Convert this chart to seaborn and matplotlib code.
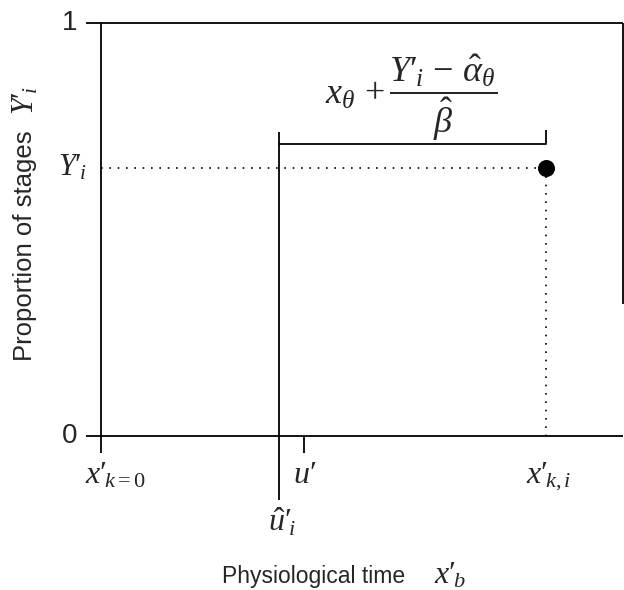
import matplotlib
matplotlib.use("Agg")
import matplotlib.pyplot as plt
import seaborn as sns
import pandas as pd

# Key positions on the physiological-time axis (fraction of axis span)
x_k0 = 0.0          # x'_{k=0}
u_hat = 0.341       # estimated u'_i
u_prime = 0.389     # u'
x_ki = 0.852        # x'_{k,i}

# Proportion values
y_low = 0.0
y_high = 1.0
Y_i = 0.649         # observed proportion Y'_i

# Bracket showing the estimated time span
bracket_y = 0.707
bracket_tick_top = 0.741
u_hat_top = 0.736
u_hat_bottom = -0.155

P = "\u2032"  # prime glyph drawn at full size
x_tick_labels = [rf"$x{P}_{{\!k=0}}$", rf"$u{P}$", rf"$x{P}_{{\!k,i}}$"]
y_tick_labels = ["0", rf"$Y{P}_{{\!i}}$", "1"]
u_hat_label = rf"$\hat{{u}}{P}_{{\!i}}$"
formula = (rf"$x_{{\theta}}\,+\dfrac{{Y{P}_{{\!i}}\,-\,\hat{{\alpha}}_{{\theta}}}}"
           rf"{{\hat{{\beta}}}}$")
x_label_text = "Physiological time"
x_label_sym = rf"$x{P}_{{\!b}}$"
y_label_text = "Proportion of stages"
y_label_sym = rf"$Y{P}_{{\!i}}$"

sns.set_theme(style="white")
plt.rcParams["font.family"] = ["Liberation Sans", "DejaVu Sans"]
plt.rcParams["mathtext.fontset"] = "custom"
plt.rcParams["mathtext.rm"] = "Liberation Serif"
plt.rcParams["mathtext.it"] = "Liberation Serif:italic"
plt.rcParams["mathtext.bf"] = "Liberation Serif:bold"
plt.rcParams["mathtext.fallback"] = "stix"

fig = plt.figure(figsize=(6.24, 5.9), dpi=100)
ax = fig.add_axes([101 / 624, 1 - 436 / 590, 522 / 624, 413 / 590])
ax.set_xlim(0, 1)
ax.set_ylim(0, 1)
for s in ax.spines.values():
    s.set_visible(False)
ax.set_xticks([])
ax.set_yticks([])

lw = 1.3
k = dict(color="black", lw=lw, clip_on=False, solid_capstyle="butt")
ext_left = -0.029
# frame lines (axes extended past the origin)
ax.plot([ext_left, 1.0], [y_low, y_low], **k)
ax.plot([ext_left, 1.0], [y_high, y_high], **k)
ax.plot([x_k0, x_k0], [-0.041, y_high], **k)
ax.plot([1.0, 1.0], [0.32, y_high], **k)
# u' tick
ax.plot([u_prime, u_prime], [y_low, -0.041], **k)
# u-hat line
ax.plot([u_hat, u_hat], [u_hat_bottom, u_hat_top], **k)
# bracket
ax.plot([u_hat, x_ki, x_ki], [bracket_y, bracket_y, bracket_tick_top], **k)

# dotted guides to the observation
dot = dict(color="black", lw=1.2, linestyle=(0, (1, 4)), clip_on=False)
ax.plot([x_k0, x_ki], [Y_i, Y_i], **dot)
ax.plot([x_ki, x_ki], [Y_i, y_low], **dot)

obs = pd.DataFrame({"x": [x_ki], "y": [Y_i]})
sns.scatterplot(data=obs, x="x", y="y", ax=ax, s=150, color="black",
                edgecolor="black", linewidth=0, clip_on=False, legend=False, zorder=5)
ax.set_xlabel("")
ax.set_ylabel("")

# y labels
ax.text(-0.061, y_high, y_tick_labels[2], ha="center", va="center", fontsize=20)
ax.text(-0.061, y_low, y_tick_labels[0], ha="center", va="center", fontsize=20)
ax.text(-0.055, Y_i, y_tick_labels[1], ha="center", va="center", fontsize=22)

# x labels
for xv, lab in zip([x_k0 + 0.027, u_prime + 0.002, x_ki + 0.005], x_tick_labels):
    ax.text(xv, -0.114, lab, ha="center", va="baseline", fontsize=23)
ax.text(u_hat + 0.006, -0.232, u_hat_label, ha="center", va="baseline", fontsize=23)

# formula above the bracket
ax.text(0.594, 0.82, formula, ha="center", va="center", fontsize=26)

# axis titles: sans-serif words followed by the italic symbol
fig.text(222 / 624, 1 - 583 / 590, x_label_text, ha="left", va="baseline", fontsize=16.5)
fig.text(434 / 624, 1 - 583 / 590, x_label_sym, ha="left", va="baseline", fontsize=23)
fig.text(25 / 624, 1 - 246 / 590, y_label_text, ha="center", va="center",
         rotation=90, fontsize=18.5)
fig.text(25 / 624, 1 - 101 / 590, y_label_sym, ha="center", va="center",
         rotation=90, fontsize=22)

fig.savefig("out.png", dpi=100)
